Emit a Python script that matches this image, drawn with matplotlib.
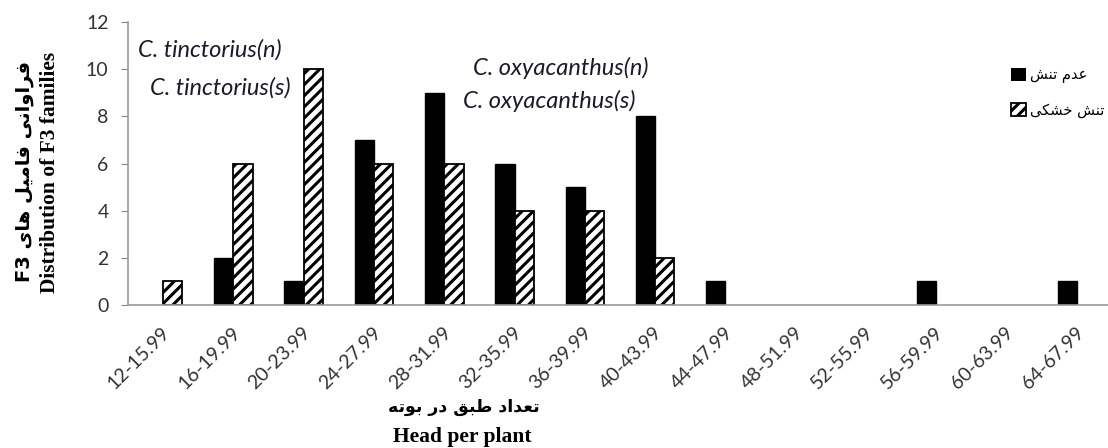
import matplotlib
matplotlib.use("Agg")
import matplotlib.pyplot as plt
import numpy as np

categories = ["12-15.99", "16-19.99", "20-23.99", "24-27.99", "28-31.99", "32-35.99",
              "36-39.99", "40-43.99", "44-47.99", "48-51.99", "52-55.99", "56-59.99",
              "60-63.99", "64-67.99"]
normal = [0, 2, 1, 7, 9, 6, 5, 8, 1, 0, 0, 1, 0, 1]     # عدم تنش
stress = [1, 6, 10, 6, 6, 4, 4, 2, 0, 0, 0, 0, 0, 0]    # تنش خشکی
y_ticks = [0, 2, 4, 6, 8, 10, 12]

label_normal = "عدم تنش"
label_stress = "تنش خشکی"
ylabel_fa = "فراوانی فامیل های F3"
ylabel_en = "Distribution of F3 families"
xlabel_fa = "تعداد طبق در بوته"
xlabel_en = "Head per plant"

# --- minimal Persian shaping (presentation forms) + visual ordering ---
FORMS = {
    '\u0627': ('\uFE8D', '\uFE8E', None, None),
    '\u0628': ('\uFE8F', '\uFE90', '\uFE91', '\uFE92'),
    '\u062A': ('\uFE95', '\uFE96', '\uFE97', '\uFE98'),
    '\u062E': ('\uFEA5', '\uFEA6', '\uFEA7', '\uFEA8'),
    '\u062F': ('\uFEA9', '\uFEAA', None, None),
    '\u0631': ('\uFEAD', '\uFEAE', None, None),
    '\u0634': ('\uFEB5', '\uFEB6', '\uFEB7', '\uFEB8'),
    '\u0637': ('\uFEC1', '\uFEC2', '\uFEC3', '\uFEC4'),
    '\u0639': ('\uFEC9', '\uFECA', '\uFECB', '\uFECC'),
    '\u0641': ('\uFED1', '\uFED2', '\uFED3', '\uFED4'),
    '\u0642': ('\uFED5', '\uFED6', '\uFED7', '\uFED8'),
    '\u0644': ('\uFEDD', '\uFEDE', '\uFEDF', '\uFEE0'),
    '\u0645': ('\uFEE1', '\uFEE2', '\uFEE3', '\uFEE4'),
    '\u0646': ('\uFEE5', '\uFEE6', '\uFEE7', '\uFEE8'),
    '\u0647': ('\uFEE9', '\uFEEA', '\uFEEB', '\uFEEC'),
    '\u0648': ('\uFEED', '\uFEEE', None, None),
    '\u06CC': ('\uFBFC', '\uFBFD', '\uFBFE', '\uFBFF'),
    '\u06A9': ('\uFB8E', '\uFB8F', '\uFB90', '\uFB91'),
}


def shape_word(w):
    out = []
    for i, c in enumerate(w):
        f = FORMS.get(c)
        if f is None:
            out.append(c)
            continue
        prev = w[i - 1] if i > 0 else None
        nxt = w[i + 1] if i < len(w) - 1 else None
        jp = prev in FORMS and FORMS[prev][2] is not None
        jn = nxt in FORMS and f[2] is not None
        if jp and jn:
            g = f[3]
        elif jp:
            g = f[1]
        elif jn:
            g = f[2]
        else:
            g = f[0]
        out.append(g)
    return ''.join(reversed(out))


def rtl(text):
    toks = text.split(' ')
    res = []
    for t in reversed(toks):
        if any(ch in FORMS for ch in t):
            res.append(shape_word(t))
        else:
            res.append(t)
    return ' '.join(res)


plt.rcParams['hatch.linewidth'] = 2.2
plt.rcParams['hatch.color'] = 'black'

W, H = 1108, 448
fig = plt.figure(figsize=(W / 100, H / 100), dpi=100)
ax = fig.add_axes([128 / W, 143 / H, 984 / W, 283 / H])

x = np.arange(len(categories))
w = 0.275
ax.bar(x - w / 2, normal, width=w, color='black', edgecolor='black',
       linewidth=[1.0 if v > 0 else 0 for v in normal], label=rtl(label_normal))
ax.bar(x + w / 2, stress, width=w, color='white', edgecolor='black',
       linewidth=[1.3 if v > 0 else 0 for v in stress],
       hatch='///', label=rtl(label_stress))

ax.set_xlim(-0.5, 13.5)
ax.set_ylim(0, 12)
ax.set_yticks(y_ticks)
ax.set_yticklabels([str(v) for v in y_ticks], fontsize=14, color='#333333', family='Lato')
ax.set_xticks(x + 0.06)
ax.set_xticklabels(categories, rotation=45, ha='right', va='center',
                   rotation_mode='anchor', fontsize=14, color='#333333', family='Lato')
ax.tick_params(axis='x', length=0, pad=18)
ax.tick_params(axis='y', length=5, color='#868686', pad=9)
for s in ['top', 'right']:
    ax.spines[s].set_visible(False)
for s in ['left', 'bottom']:
    ax.spines[s].set_color('#9a9a9a')
    ax.spines[s].set_linewidth(1.2)

# species annotations
ann_kw = dict(fontsize=17, style='italic', family='Lato', color='#1a1a2a', va='center', ha='left')
ax.text(-0.36, 10.8, "C. tinctorius(n)", **ann_kw)
ax.text(-0.19, 9.2, "C. tinctorius(s)", **ann_kw)
ax.text(4.41, 10.05, "C. oxyacanthus(n)", **ann_kw)
ax.text(4.27, 8.65, "C. oxyacanthus(s)", **ann_kw)

# legend
leg = ax.legend(loc='upper left', bbox_to_anchor=(1004 / W, 1 - 60 / H),
                bbox_transform=fig.transFigure, frameon=False,
                prop={'family': 'DejaVu Sans', 'size': 10.5}, handlelength=1.0,
                handleheight=1.0, handletextpad=0.25, labelspacing=1.3, borderpad=0)

# axis titles
fig.text(25 / W, 1 - 172 / H, rtl(ylabel_fa), rotation=90, ha='center', va='center',
         fontsize=14, fontweight='bold', family='DejaVu Sans')
fig.text(50 / W, 1 - 172 / H, ylabel_en, rotation=90, ha='center', va='center',
         fontsize=15.5, fontweight='bold', family='Liberation Serif')
fig.text(464 / W, 1 - 407 / H, rtl(xlabel_fa), ha='center', va='center',
         fontsize=12.5, fontweight='bold', family='DejaVu Sans')
fig.text(462 / W, 1 - 437 / H, xlabel_en, ha='center', va='center',
         fontsize=15.5, fontweight='bold', family='Liberation Serif')

fig.savefig('out.png', dpi=100)
